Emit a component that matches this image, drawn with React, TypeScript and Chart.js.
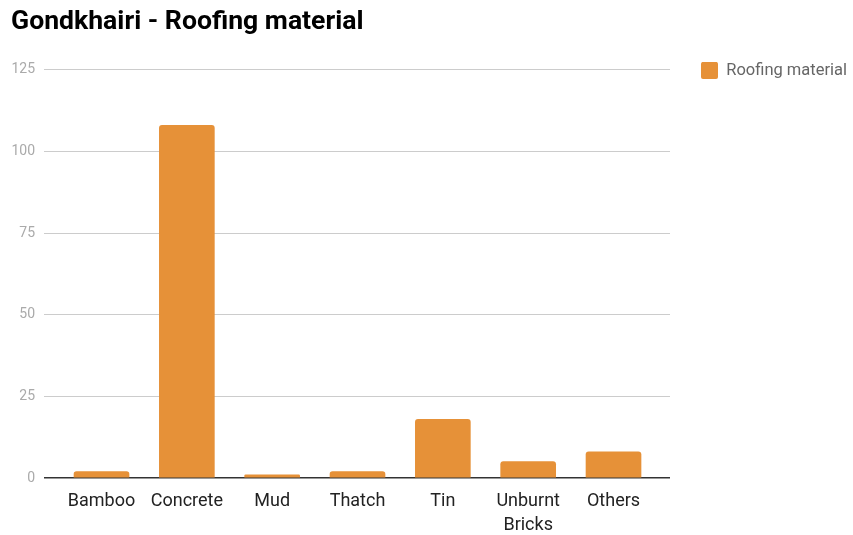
import React, { useEffect, useRef } from "react";
import { Chart, registerables } from "chart.js";

Chart.register(...registerables);

const chartTitle = "Gondkhairi - Roofing material";
const seriesName = "Roofing material";
const categories = ["Bamboo", "Concrete", "Mud", "Thatch", "Tin", "Unburnt Bricks", "Others"];
const values = [2, 108, 1, 2, 18, 5, 8];
const yTickStep = 25;
const yTopTick = 125;

export default function App() {
  const ref = useRef<HTMLCanvasElement | null>(null);

  useEffect(() => {
    if (!ref.current) return;
    Chart.defaults.font.family = "Roboto";
    const chart = new Chart(ref.current, {
      type: "bar",
      data: {
        datasets: [
          {
            label: seriesName,
            data: values.map((v, i) => ({ x: i, y: v })),
            backgroundColor: "#e69138",
            borderRadius: 3,
            borderSkipped: "start",
            barThickness: 55,
          },
        ],
      },
      options: {
        animation: false,
        responsive: false,
        devicePixelRatio: 1,
        layout: { padding: { left: 11, right: 2, top: 0, bottom: 0 } },
        plugins: {
          title: {
            display: true,
            text: chartTitle,
            align: "start",
            color: "#000",
            font: { family: "Roboto", size: 26.6, weight: "bold", lineHeight: 1.2 },
            padding: { top: 6, bottom: 24 },
          },
          legend: {
            position: "right",
            align: "start",
            fullSize: false,
            maxWidth: 150,
            labels: {
              boxWidth: 17,
              boxHeight: 17,
              padding: 0,
              color: "#666",
              font: { family: "Roboto", size: 16.5 },
              useBorderRadius: true,
              borderRadius: 2,
            },
          },
          tooltip: { enabled: false },
        },
        scales: {
          x: {
            type: "linear",
            offset: false,
            min: -0.674,
            max: 6.662,
            grid: { display: false, drawTicks: false },
            border: { display: false },
            ticks: {
              stepSize: 1,
              includeBounds: false,
              autoSkip: false,
              maxRotation: 0,
              padding: 12,
              color: "#222",
              font: { family: "Roboto", size: 18, lineHeight: 1.33 },
              callback: (v: any) => {
                const label = categories[Number(v)];
                return label ? label.split(" ") : "";
              },
            },
            afterFit: (s: any) => {
              s.paddingLeft = 0;
              s.paddingRight = 0;
              s.height = 57;
            },
          },
          y: {
            type: "linear",
            min: 0,
            max: yTopTick + 8 / 3.264,
            grid: {
              drawTicks: false,
              color: (ctx: any) => (ctx.tick && ctx.tick.value === 0 ? "#333" : "#ccc"),
              lineWidth: (ctx: any) => (ctx.tick && ctx.tick.value === 0 ? 1.5 : 1),
            },
            border: { display: false },
            ticks: {
              stepSize: yTickStep,
              includeBounds: false,
              padding: 9,
              color: "#aaa",
              font: { family: "Roboto", size: 14 },
            },
            afterFit: (s: any) => {
              s.width = 33;
              s.paddingTop = 0;
              s.paddingBottom = 0;
            },
          },
          yRight: {
            type: "linear",
            position: "right",
            display: true,
            grid: { display: false, drawTicks: false },
            border: { display: false },
            ticks: { display: false },
            afterFit: (s: any) => {
              s.width = 31;
            },
          },
        },
      },
    } as any);
    return () => chart.destroy();
  }, []);

  return (
    <canvas
      ref={ref}
      width={853}
      height={535}
      style={{ position: "absolute", left: 0, top: 0, width: 853, height: 535, display: "block" }}
    />
  );
}
